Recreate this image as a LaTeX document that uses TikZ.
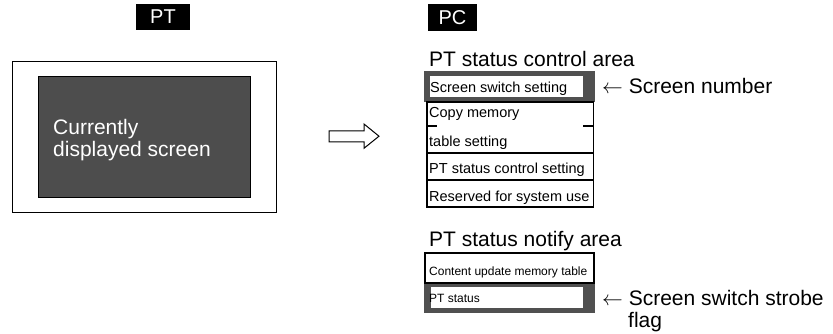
\documentclass[tikz,border=0pt]{standalone}
\usepackage{fontspec}
\setmainfont{Liberation Sans}
\definecolor{darkgrey}{HTML}{4D4D4D}
\definecolor{cellgrey}{HTML}{505050}
\tikzset{
  lbl/.style={fill=black, text=white, inner sep=0pt, font=\fontsize{20}{22}\selectfont},
  big/.style={inner sep=0pt, anchor=base west, font=\fontsize{21}{23}\selectfont},
  celltxt/.style={inner sep=0pt, anchor=base west, font=\fontsize{14.5}{17}\selectfont},
  smalltxt/.style={inner sep=0pt, anchor=base west, font=\fontsize{12}{14}\selectfont},
  box/.style={inner sep=0pt, outer sep=0pt},
  rowbox/.style={box, draw=black, line width=1.1pt, fill=white},
}
\begin{document}
\begin{tikzpicture}[x=1pt, y=-1pt]
\useasboundingbox (0,0) rectangle (833,334);
% labels
\node[lbl, minimum width=54pt, minimum height=26pt] (pt) at (163,17) {PT};
\node[lbl, minimum width=49pt, minimum height=27pt] (pc) at (452.5,17.5) {PC};
% PT display
\node[box, draw=black, line width=1pt, minimum width=264pt, minimum height=150pt] (frame) at (144,137) {};
\node[box, draw=black, line width=1pt, fill=darkgrey, minimum width=212pt, minimum height=120pt] (screen) at (144,137) {};
\node[big, text=white] (scr1) at (53,135) {Currently};
\node[big, text=white] (scr2) at (53,157) {displayed screen};
% hollow arrow
\draw[line width=1pt, fill=white] (329,131) -- (364,131) -- (364,124) -- (379,136.2) -- (364,148.3) -- (364,142) -- (329,142) -- cycle;
% PT status control area
\node[big] (ctitle) at (429,67) {PT status control area};
\node[box, fill=cellgrey, minimum width=171pt, minimum height=31pt] (r1) at (509.5,86.5) {};
\node[box, fill=white, minimum width=153pt, minimum height=20.5pt] (r1in) at (506.5,86.6) {};
\node[celltxt] (r1t) at (430,92.5) {Screen switch setting};
\node[rowbox, minimum width=166.5pt, minimum height=51pt] (r2) at (510.25,127.5) {};
\node[rowbox, minimum width=166.5pt, minimum height=27pt] (r3) at (510.25,166.5) {};
\node[rowbox, minimum width=166.5pt, minimum height=27pt] (r4) at (510.25,193.5) {};
\draw[line width=1.1pt] ([yshift=1.5pt]r2.west) -- ++(10,0);
\draw[line width=1.1pt] ([yshift=1.5pt]r2.east) -- ++(-11,0);
\node[celltxt] (r2ta) at (429,118) {Copy memory};
\node[celltxt] (r2tb) at (429,147) {table setting};
\node[celltxt] (r3t) at (429,173.5) {PT status control setting};
\node[celltxt] (r4t) at (429,201) {Reserved for system use};
\node[big] (snum) at (602,94) {$\leftarrow$ Screen number};
% PT status notify area
\node[big] (ntitle) at (429,246) {PT status notify area};
\node[box, fill=cellgrey, minimum width=171pt, minimum height=30.3pt] (n2) at (509.5,298.2) {};
\node[box, fill=white, minimum width=152pt, minimum height=21pt] (n2in) at (507,297.5) {};
\node[rowbox, minimum width=169pt, minimum height=30pt] (n1) at (509.5,268) {};
\node[smalltxt] (n1t) at (429,275) {Content update memory table};
\node[smalltxt] (n2t) at (429,302) {PT status};
\node[big] (strobe1) at (602,305) {$\leftarrow$ Screen switch strobe};
\node[big] (strobe2) at (628,327) {flag};
\end{tikzpicture}
\end{document}
